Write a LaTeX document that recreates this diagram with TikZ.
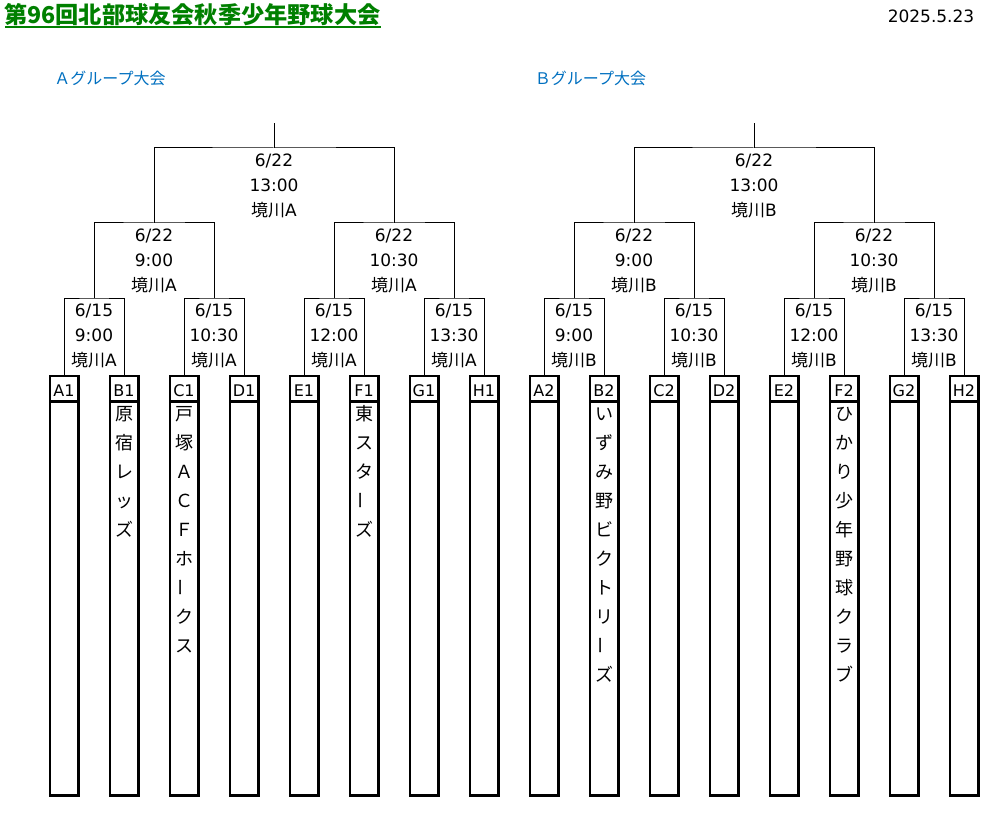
\documentclass[tikz,border=0pt]{standalone}
\usepackage{fontspec}
\usepackage{graphicx}
\setmainfont{DejaVu Sans}
\newfontfamily\jp{Noto Sans CJK JP}
\usetikzlibrary{calc}
\definecolor{titlegreen}{RGB}{0,128,0}
\definecolor{grpblue}{RGB}{0,112,192}
\newcommand\mlabel[6]{%
  \node[mtxt] (#1a) at (#2,{#3+12.5}) {#4};
  \node[mtxt] (#1b) at (#2,{#3+37.5}) {#5};
  \node[mtxt] (#1c) at (#2,{#3+62}) {#6};}
\newcommand\vbar{\raisebox{-2.2pt}{\rotatebox{90}{ー}}}
\begin{document}
\begin{tikzpicture}[x=1pt,y=-1pt,
  bracket/.style={line width=1pt, draw=black},
  labelbox/.style={draw, line width=2.5pt, minimum width=28.5pt, minimum height=25.5pt,
    inner sep=0pt, anchor=north, font=\fontsize{16}{20}\selectfont, text height=15.7pt, text depth=0pt},
  namebox/.style={draw, line width=2.5pt, minimum width=28.5pt, minimum height=394pt,
    inner sep=0pt, anchor=north},
  mtxt/.style={inner sep=0pt, font=\fontsize{17}{20}\selectfont, text height=12.4pt, text depth=0pt},
  vch/.style={inner sep=0pt, font=\jp\fontsize{18}{20}\selectfont, text height=15.84pt, text depth=2.16pt},
  grp/.style={inner sep=0pt, font=\jp\fontsize{16}{20}\selectfont, text=grpblue, text height=14.08pt, text depth=1.92pt},
]
\path[fill=white,use as bounding box] (0,0) rectangle (995,818);

% title and date
\node[inner sep=0pt, anchor=west, font=\jp\bfseries\fontsize{23.2}{23.2}\selectfont, text=titlegreen,
  text height=20.4pt, text depth=2.8pt] (title) at (4,15) {第96回北部球友会秋季少年野球大会};
\draw[titlegreen, line width=2pt] ($(title.south west)+(1,0.2)$) -- ($(title.south east)+(0,0.2)$);
\node[mtxt] (date) at (931,16.5) {2025.5.23};

\node[grp] (gA) at (110,78) {Ａグループ大会};
\node[grp] (gB) at (590.5,78) {Ｂグループ大会};

% team boxes
\foreach \t [count=\i from 0] in {A1,B1,C1,D1,E1,F1,G1,H1,A2,B2,C2,D2,E2,F2,G2,H2} {
  \node[labelbox] (L\t) at ({64+60*\i},374.5) {\t};
  \node[namebox] (N\t) at ({64+60*\i},400) {};
}

% team names (vertical)
\foreach \c [count=\k from 0] in {原,宿,レ,ッ,ズ}
  \node[vch] (nB1-\k) at (124,{413.5+29*\k}) {\c};
\foreach \c [count=\k from 0] in {戸,塚,Ａ,Ｃ,Ｆ,ホ,\vbar,ク,ス}
  \node[vch] (nC1-\k) at (184,{413.5+29*\k}) {\c};
\foreach \c [count=\k from 0] in {東,ス,タ,\vbar,ズ}
  \node[vch] (nF1-\k) at (364,{413.5+29*\k}) {\c};
\foreach \c [count=\k from 0] in {い,ず,み,野,ビ,ク,ト,リ,\vbar,ズ}
  \node[vch] (nB2-\k) at (604,{413.5+29*\k}) {\c};
\foreach \c [count=\k from 0] in {ひ,か,り,少,年,野,球,ク,ラ,ブ}
  \node[vch] (nF2-\k) at (844,{413.5+29*\k}) {\c};

% bracket: round 1
\foreach \a/\b [count=\j from 0] in {A1/B1,C1/D1,E1/F1,G1/H1,A2/B2,C2/D2,E2/F2,G2/H2} {
  \coordinate (R1-\j) at ({94+120*\j},298);
  \draw[bracket] (L\a.north) |- (R1-\j) -| (L\b.north);
}
% round 2
\foreach \a/\b [count=\j from 0] in {0/1,2/3,4/5,6/7} {
  \coordinate (R2-\j) at ({154+240*\j},223);
  \draw[bracket] (R1-\a) |- (R2-\j) -| (R1-\b);
}
% round 3 and stems
\foreach \a/\b [count=\j from 0] in {0/1,2/3} {
  \coordinate (R3-\j) at ({274+480*\j},148);
  \coordinate (S-\j) at ({274+480*\j},123);
  \draw[bracket] (R2-\a) |- (R3-\j) -| (R2-\b);
  \draw[bracket] (R3-\j) -- (S-\j);
}

% match labels group A
\mlabel{mA1}{94}{298}{6/15}{9:00}{{\jp 境川}A}
\mlabel{mA2}{214}{298}{6/15}{10:30}{{\jp 境川}A}
\mlabel{mA3}{334}{298}{6/15}{12:00}{{\jp 境川}A}
\mlabel{mA4}{454}{298}{6/15}{13:30}{{\jp 境川}A}
\mlabel{mA5}{154}{223}{6/22}{9:00}{{\jp 境川}A}
\mlabel{mA6}{394}{223}{6/22}{10:30}{{\jp 境川}A}
\mlabel{mA7}{274}{148}{6/22}{13:00}{{\jp 境川}A}
% group B
\mlabel{mB1}{574}{298}{6/15}{9:00}{{\jp 境川}B}
\mlabel{mB2}{694}{298}{6/15}{10:30}{{\jp 境川}B}
\mlabel{mB3}{814}{298}{6/15}{12:00}{{\jp 境川}B}
\mlabel{mB4}{934}{298}{6/15}{13:30}{{\jp 境川}B}
\mlabel{mB5}{634}{223}{6/22}{9:00}{{\jp 境川}B}
\mlabel{mB6}{874}{223}{6/22}{10:30}{{\jp 境川}B}
\mlabel{mB7}{754}{148}{6/22}{13:00}{{\jp 境川}B}
\end{tikzpicture}
\end{document}
